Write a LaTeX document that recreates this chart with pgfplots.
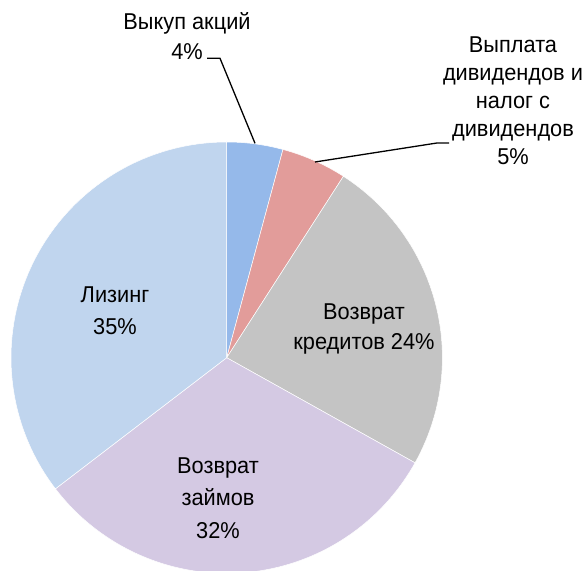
\documentclass[border=0pt]{standalone}
\usepackage{pgfplots}
\pgfplotsset{compat=1.18}
\usepackage{pgfplotstable}
\usepackage{fontspec}
\setmainfont{Liberation Sans}[FakeStretch=0.95]

\definecolor{cBuy}{HTML}{95B9EA}
\definecolor{cDiv}{HTML}{E29C9A}
\definecolor{cCred}{HTML}{C4C4C4}
\definecolor{cLoan}{HTML}{D4C9E3}
\definecolor{cLease}{HTML}{C0D5EE}

% shares in percent, clockwise from the top
\pgfplotstableread{
slice share
buy   4.2
div   4.9
cred  24.0
loan  31.5
lease 35.4
}\piedata

\begin{document}
\begin{tikzpicture}
\pgfplotstablegetelem{0}{share}\of\piedata \let\sA\pgfplotsretval
\pgfplotstablegetelem{1}{share}\of\piedata \let\sB\pgfplotsretval
\pgfplotstablegetelem{2}{share}\of\piedata \let\sC\pgfplotsretval
\pgfplotstablegetelem{3}{share}\of\piedata \let\sD\pgfplotsretval
\pgfplotstablegetelem{4}{share}\of\piedata \let\sE\pgfplotsretval
\pgfmathsetmacro{\aZ}{90}
\pgfmathsetmacro{\aA}{\aZ-3.6*\sA}
\pgfmathsetmacro{\aB}{\aA-3.6*\sB}
\pgfmathsetmacro{\aC}{\aB-3.6*\sC}
\pgfmathsetmacro{\aD}{\aC-3.6*\sD}
\pgfmathsetmacro{\aE}{\aD-3.6*\sE}
\def\cx{226.7}
\def\cy{-357.7}
\def\rr{215.7}
\begin{axis}[
  width=585bp, height=571bp, scale only axis,
  xmin=0, xmax=585, ymin=-571, ymax=0,
  hide axis, clip=true,
]
\addplot[draw=none, forget plot] coordinates {(0,0) (585,-571)};
\addplot[fill=cBuy, draw=white, line width=0.5bp, domain=\aA:\aZ, samples=40, variable=\t]
  ({\cx+\rr*cos(\t)}, {\cy+\rr*sin(\t)}) -- (axis cs:\cx,\cy) -- cycle;
\addplot[fill=cDiv, draw=white, line width=0.5bp, domain=\aB:\aA, samples=40, variable=\t]
  ({\cx+\rr*cos(\t)}, {\cy+\rr*sin(\t)}) -- (axis cs:\cx,\cy) -- cycle;
\addplot[fill=cCred, draw=white, line width=0.5bp, domain=\aC:\aB, samples=80, variable=\t]
  ({\cx+\rr*cos(\t)}, {\cy+\rr*sin(\t)}) -- (axis cs:\cx,\cy) -- cycle;
\addplot[fill=cLoan, draw=white, line width=0.5bp, domain=\aD:\aC, samples=100, variable=\t]
  ({\cx+\rr*cos(\t)}, {\cy+\rr*sin(\t)}) -- (axis cs:\cx,\cy) -- cycle;
\addplot[fill=cLease, draw=white, line width=0.5bp, domain=\aE:\aD, samples=100, variable=\t]
  ({\cx+\rr*cos(\t)}, {\cy+\rr*sin(\t)}) -- (axis cs:\cx,\cy) -- cycle;

% leader lines
\addplot[black, line width=1.3bp] coordinates {(207,-58.3) (220,-58.3) (255,-143.3)};
\addplot[black, line width=1.3bp] coordinates {(315,-162) (437,-143) (449,-143)};

\tikzset{lbl/.style={anchor=base, inner sep=0pt, font=\fontsize{23}{28}\selectfont}}
\node[lbl] at (axis cs:187,-29.5) {Выкуп акций};
\node[lbl] at (axis cs:187,-60) {4\%};

\node[lbl] at (axis cs:513,-53) {Выплата};
\node[lbl] at (axis cs:513,-81) {дивидендов и};
\node[lbl] at (axis cs:513,-109) {налог с};
\node[lbl] at (axis cs:513,-137) {дивидендов};
\node[lbl] at (axis cs:513,-165) {5\%};

\node[lbl] at (axis cs:115,-303) {Лизинг};
\node[lbl] at (axis cs:115,-335) {35\%};

\node[lbl] at (axis cs:364,-320) {Возврат};
\node[lbl] at (axis cs:364,-350) {кредитов 24\%};

\node[lbl] at (axis cs:218,-474) {Возврат};
\node[lbl] at (axis cs:218,-506) {займов};
\node[lbl] at (axis cs:218,-538) {32\%};
\end{axis}
\end{tikzpicture}
\end{document}
